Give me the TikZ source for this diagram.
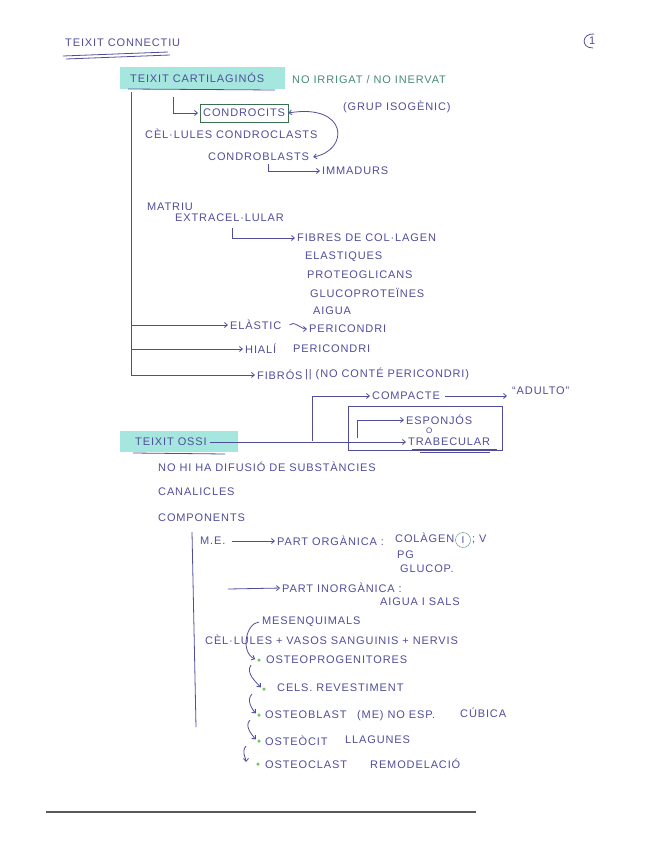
\documentclass[tikz,border=0pt]{standalone}
\usepackage{fontspec}
\setmainfont{Liberation Sans}[LetterSpace=8]
\usetikzlibrary{arrows.meta}
\definecolor{ink}{RGB}{80,78,155}
\definecolor{greenink}{RGB}{70,140,118}
\definecolor{marker}{RGB}{165,230,222}
\definecolor{boxgreen}{RGB}{60,110,80}
\definecolor{dotgreen}{RGB}{110,200,90}
\definecolor{pagegray}{RGB}{90,90,90}
\tikzset{
  >={Straight Barb[length=3pt,width=5pt]},
  txt/.style={anchor=west, inner sep=0pt, text=ink, font=\fontsize{11}{12}\selectfont},
  gtxt/.style={txt, text=greenink},
  pen/.style={draw=ink, line width=0.8pt},
  arr/.style={pen, ->, shorten >=2pt},
  gdot/.style={circle, fill=dotgreen, inner sep=0pt, minimum size=3.5pt},
}

\begin{document}
\begin{tikzpicture}[x=1pt, y=-1pt]
      \useasboundingbox (0,0) rectangle (655,848);
      \fill[white] (0,0) rectangle (655,848);
      \draw[pagegray, line width=2pt] (46,812) -- (476,812);

      % title
      \node[txt, name=title] at (65,43) {TEIXIT CONNECTIU};
      \draw[pen] (63,56) -- (168,52);
      \draw[pen] (66,59) -- (170,55);
      \node[txt, name=pagenum] at (589,41) {1};
      \draw[pen] (594,34) .. controls (582,33) and (580,48) .. (593,48);

      % cartilage
      \fill[marker] (120,67) rectangle (285,89);
      \node[txt, name=cart] at (130,78) {TEIXIT CARTILAGINÓS};
      \draw[pen] (128,89) -- (275,90);
      \node[gtxt, name=noirr] at (292,80) {NO IRRIGAT / NO INERVAT};

      \node[txt, name=condrocits, draw=boxgreen, inner xsep=3pt, inner ysep=5pt] at (200,113) {CONDROCITS};
      \node[txt, name=grup] at (343,107) {(GRUP ISOGÈNIC)};
      \node[txt, name=celules] at (145,134) {CÈL·LULES CONDROCLASTS};
      \node[txt, name=condroblasts] at (208,157) {CONDROBLASTS};
      \node[txt, name=immadurs] at (322,171) {IMMADURS};
      \coordinate (cl) at (173,97);
      \coordinate (bl) at (268,164);
      \draw[arr] (cl) |- (condrocits.west);
      \draw[pen, <->] (condrocits.east) .. controls (348,103) and (350,150) .. ([xshift=4pt]condroblasts.east);
      \draw[arr] (bl) |- (immadurs.west);

      \node[txt, name=matriu] at (147,207) {MATRIU};
      \node[txt, name=extra] at (175,218) {EXTRACEL·LULAR};
      \node[txt, name=fibres] at (297,238) {FIBRES DE COL·LAGEN};
      \node[txt, name=elastiques] at (305,257) {ELASTIQUES};
      \node[txt, name=proteo] at (307,275) {PROTEOGLICANS};
      \node[txt, name=gluco] at (310,293) {GLUCOPROTEÏNES};
      \node[txt, name=aigua] at (313,311) {AIGUA};
      \coordinate (ml) at (232,228);
      \draw[arr] (ml) |- (fibres.west);

      \node[txt, name=elastic] at (230,325) {ELÀSTIC};
      \node[txt, name=peri1] at (309,329) {PERICONDRI};
      \node[txt, name=hiali] at (245,349) {HIALÍ};
      \node[txt, name=peri2] at (293,349) {PERICONDRI};
      \node[txt, name=fibros] at (257,375) {FIBRÓS};
      \node[txt, name=noconte] at (305,374) {|| (NO CONTÉ PERICONDRI)};
      \coordinate (trunk) at (131,92);
      \draw[arr] (trunk) |- (fibros.west);
      \draw[arr] (131,325) -- (elastic.west);
      \draw[arr] (131,349) -- (hiali.west);
      \draw[arr] ([xshift=8pt]elastic.east) .. controls +(4,-5) and +(-8,0) .. (peri1.west);

      % bone
      \fill[marker] (120,431) rectangle (238,452);
      \node[txt, name=ossi] at (135,442) {TEIXIT OSSI};
      \draw[pen] (133,453) -- (225,454);
      \node[txt, name=compacte] at (372,396) {COMPACTE};
      \node[txt, name=adulto] at (512,391) {“ADULTO”};
      \node[txt, name=esponjos] at (406,420) {ESPONJÓS};
      \node[txt, name=o, font=\fontsize{8}{9}\selectfont] at (426,431) {O};
      \node[txt, name=trabe] at (408,442) {TRABECULAR};
      \draw[pen] (412,449) -- (497,449);
      \draw[pen] (420,452) -- (490,452);
      \draw[pen] (348,406) rectangle (502,450);
      \coordinate (split) at (312,441);
      \coordinate (inner) at (357,438);
      \draw[arr] ([xshift=3pt]ossi.east) -- (trabe.west);
      \draw[arr] (split) |- (compacte.west);
      \draw[arr] ([xshift=5pt]compacte.east) -- ([xshift=-3pt]adulto.west |- compacte.east);
      \draw[arr] (inner) |- (esponjos.west);

      \node[txt, name=difusio] at (158,467) {NO HI HA DIFUSIÓ DE SUBSTÀNCIES};
      \node[txt, name=canalicles] at (158,492) {CANALICLES};
      \node[txt, name=components] at (158,518) {COMPONENTS};
      \draw[pen] (192,532) -- (196,727);

      \node[txt, name=me] at (200,541) {M.E.};
      \node[txt, name=organica] at (277,541) {PART ORGÀNICA :};
      \node[txt, name=colagen] at (395,538) {COLÀGEN};
      \node[draw=greenink, circle, inner sep=0pt, minimum size=15pt, text=ink, name=tipus] at (463,540) {I};
      \node[txt, name=tipusv] at (472,539) {; V};
      \node[txt, name=pg] at (397,555) {PG};
      \node[txt, name=glucop] at (400,569) {GLUCOP.};
      \node[txt, name=inorganica] at (282,588) {PART INORGÀNICA :};
      \node[txt, name=sals] at (380,602) {AIGUA I SALS};
      \coordinate (inorg) at (228,589);
      \draw[arr] ([xshift=6pt]me.east) -- (organica.west);
      \draw[arr] (inorg) -- (inorganica.west);

      \node[txt, name=mesenq] at (262,622) {MESENQUIMALS};
      \node[txt, name=celules2] at (205,640) {CÈL·LULES + VASOS SANGUINIS + NERVIS};

      \node[gdot, name=d1] at (259,660) {};
      \node[txt, name=progen] at (266,660) {OSTEOPROGENITORES};
      \node[gdot, name=d2] at (264,689) {};
      \node[txt, name=revest] at (277,688) {CELS. REVESTIMENT};
      \node[gdot, name=d3] at (259,715) {};
      \node[txt, name=blast] at (265,715) {OSTEOBLAST};
      \node[txt, name=me2] at (357,716) {(ME) NO ESP.};
      \node[txt, name=cubica] at (460,713) {CÚBICA};
      \node[gdot, name=d4] at (259,741) {};
      \node[txt, name=cit] at (265,741) {OSTEÒCIT};
      \node[txt, name=llagunes] at (345,740) {LLAGUNES};
      \node[gdot, name=d5] at (258,764) {};
      \node[txt, name=clast] at (265,765) {OSTEOCLAST};
      \node[txt, name=remod] at (370,764) {REMODELACIÓ};

      \draw[arr] ([xshift=-3pt]mesenq.west) .. controls (246,623) and (240,652) .. (d1.west);
      \draw[arr] ([xshift=-8pt,yshift=-5pt]d1.center) .. controls +(-6,8) and +(-5,-6) .. (d2.west);
      \draw[arr] ([xshift=-12pt,yshift=-5pt]d2.center) .. controls +(-6,6) and +(-5,-6) .. (d3.west);
      \draw[arr] ([xshift=-9pt,yshift=-5pt]d3.center) .. controls +(-6,6) and +(-5,-6) .. (d4.west);
      \draw[arr] ([xshift=-13pt,yshift=-5pt]d4.center) .. controls +(-5,6) and +(0,-6) .. ([xshift=-12pt]d5.center);
\end{tikzpicture}
\end{document}
